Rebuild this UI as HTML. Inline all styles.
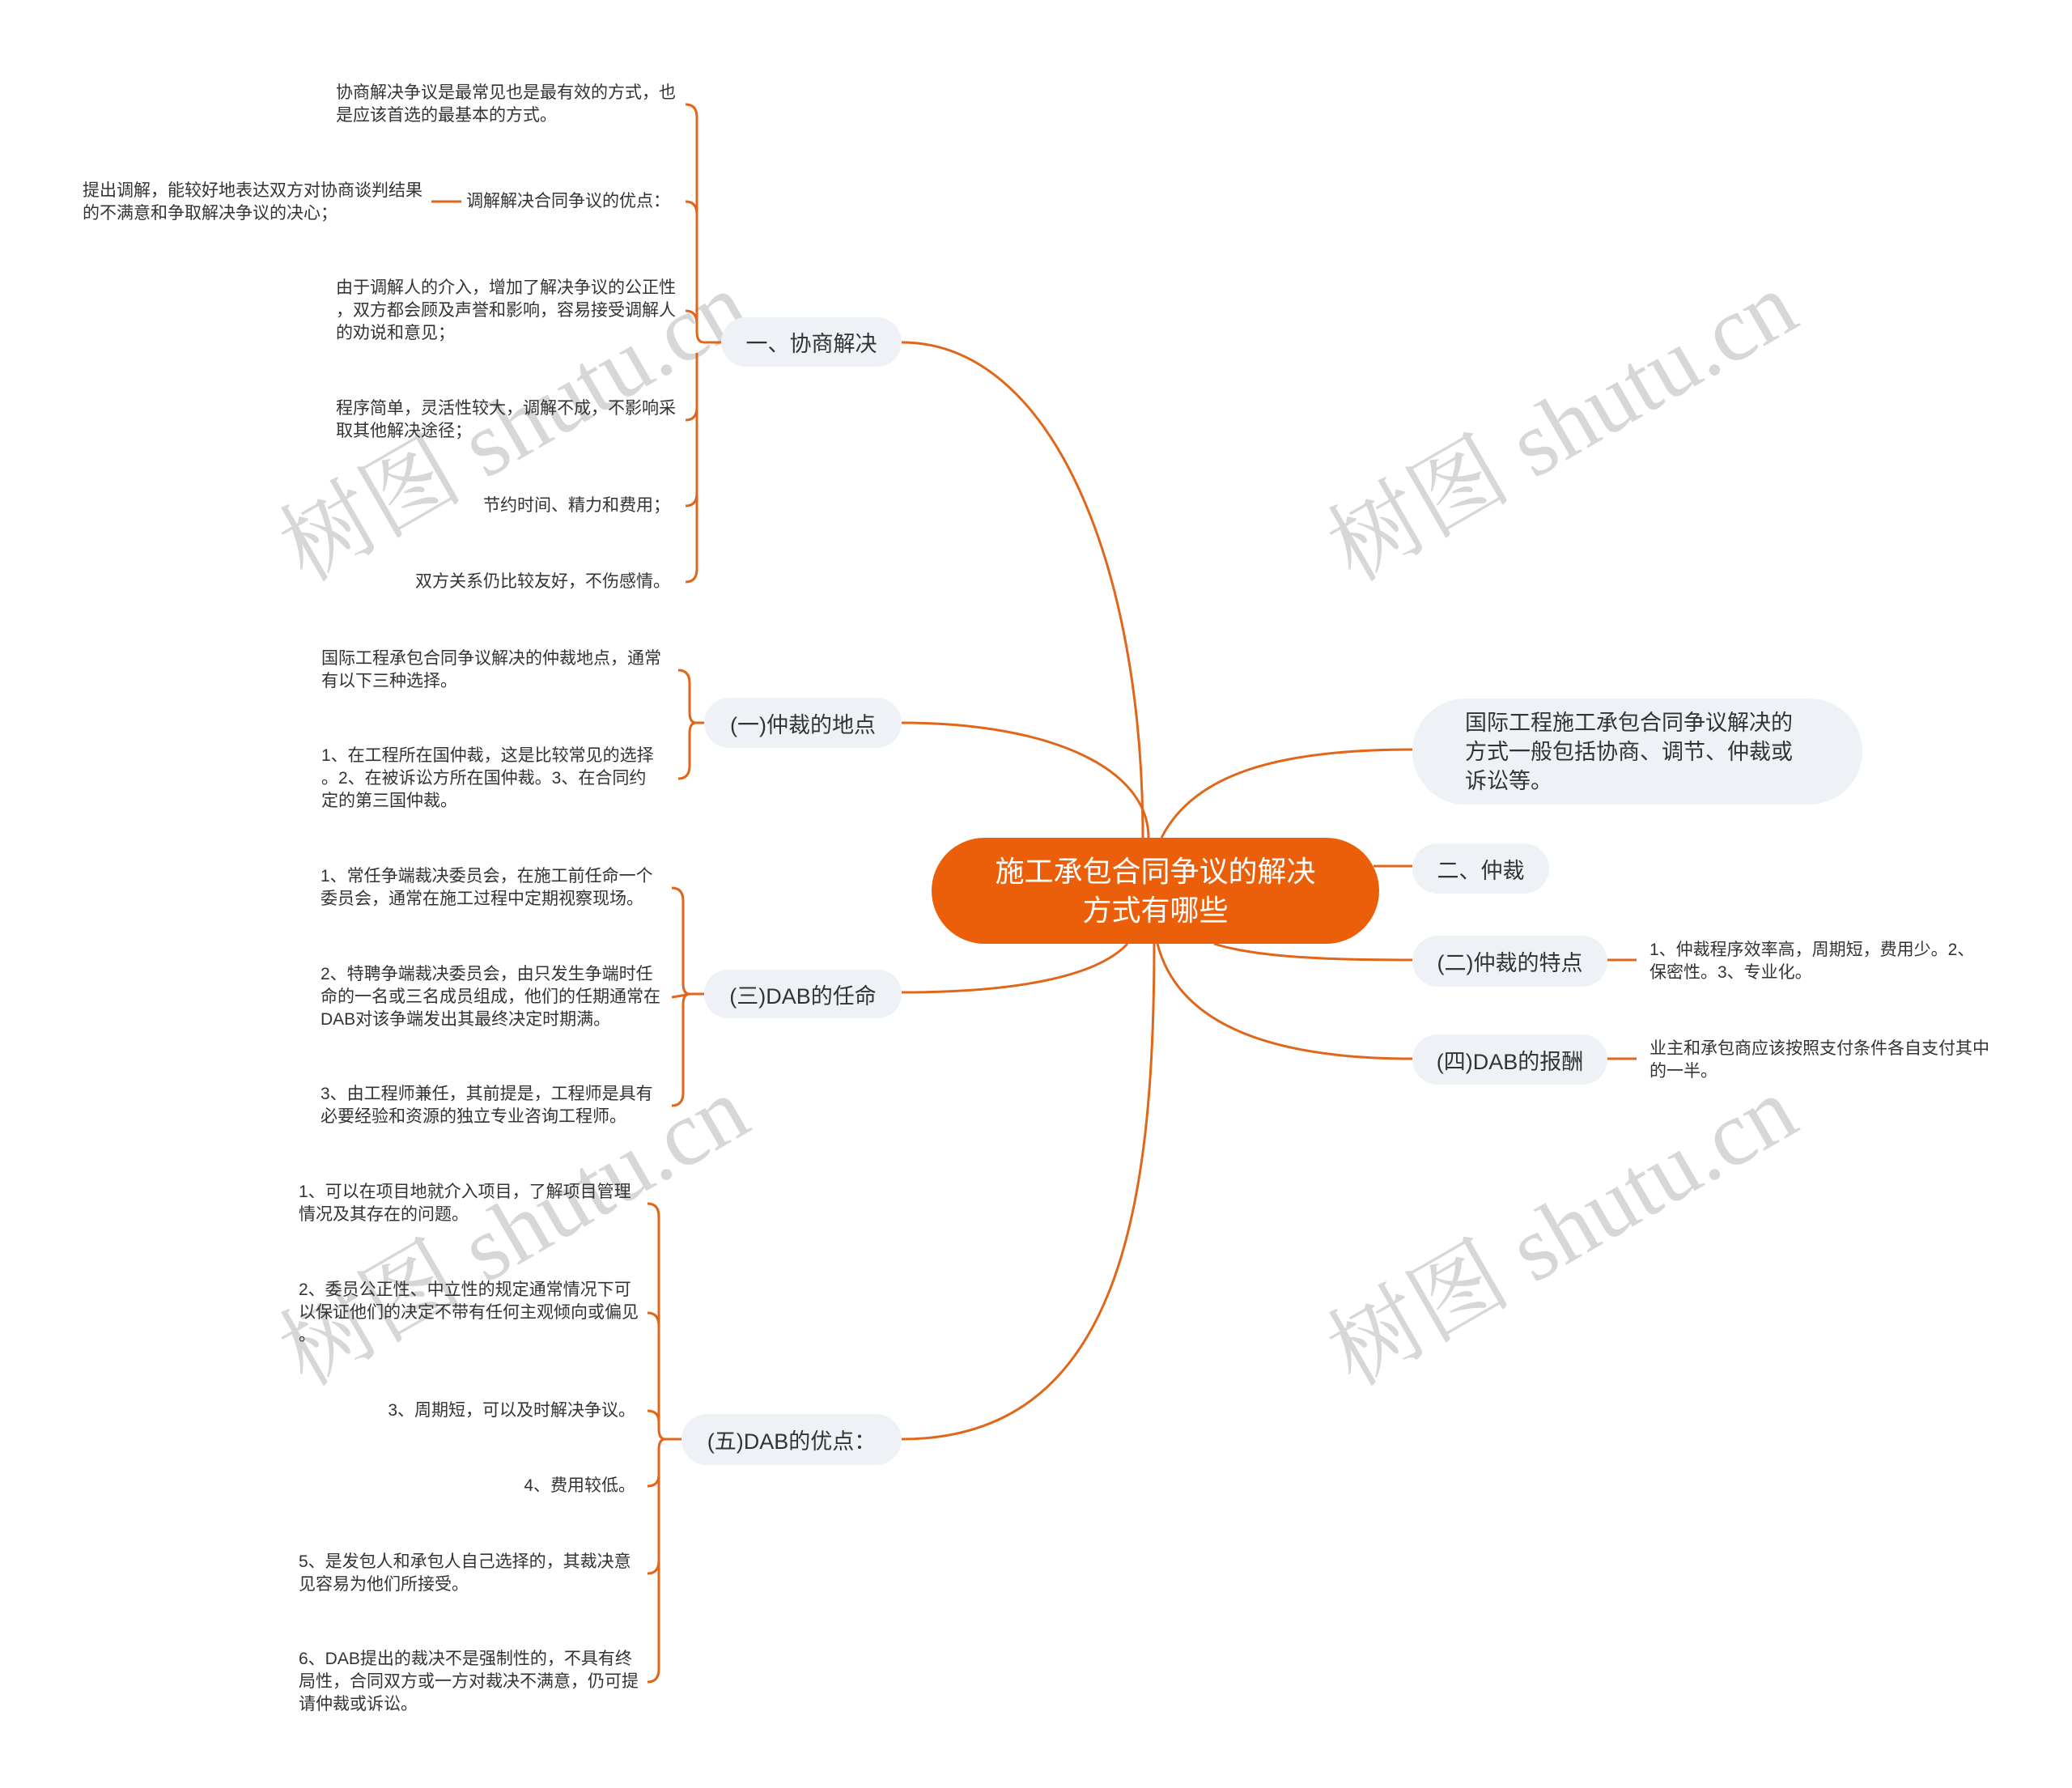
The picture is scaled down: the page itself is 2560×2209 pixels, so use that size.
<!DOCTYPE html>
<html><head><meta charset="utf-8"><style>
body{margin:0;width:2560px;height:2209px;background:#fff;position:relative;overflow:hidden;font-family:"Liberation Sans","Noto Sans CJK SC",sans-serif;}
.t{position:absolute;font-size:21px;line-height:28px;color:#333;white-space:nowrap;}
.n{position:absolute;background:#eef1f5;border-radius:32px;font-size:27px;color:#333;display:flex;align-items:center;justify-content:center;white-space:nowrap;}
.wm{position:absolute;font-family:"Liberation Serif","Noto Serif CJK SC",serif;font-size:114px;color:rgba(175,175,175,0.5);transform:translate(-50%,-50%) rotate(-30deg);white-space:nowrap;}
svg{position:absolute;left:0;top:0;}
</style></head><body>
<div class="wm" style="left:630px;top:518px">树图 shutu.cn</div>
<div class="wm" style="left:1925px;top:518px">树图 shutu.cn</div>
<div class="wm" style="left:630px;top:1512px">树图 shutu.cn</div>
<div class="wm" style="left:1925px;top:1512px">树图 shutu.cn</div>

<svg width="2560" height="2209" fill="none" stroke="#e0661a" stroke-width="3">
<path d="M1412 1035 C1412 700 1300 423 1114 423"/>
<path d="M1419 1035 C1419 950 1300 893 1114 893"/>
<path d="M1393 1166 C1354 1208 1250 1226 1114 1226"/>
<path d="M1426 1166 C1426 1500 1380 1778 1114 1778"/>
<path d="M1435 1035 C1474 958 1574 926 1745 926"/>
<path d="M1697 1070 L1745 1070"/>
<path d="M1500 1166 C1554 1183 1644 1186 1745 1186"/>
<path d="M1430 1166 C1454 1258 1554 1308 1745 1308"/>
<path d="M1986 1186 L2022 1186"/>
<path d="M1986 1308 L2022 1308"/>
<path d="M533 249 L570 249"/>
<!-- 协商 -->
<path d="M891 423 L870 423 Q861 423 861 410 L861 145 Q861 129 847 129"/>
<path d="M861 265 Q861 249 847 249"/>
<path d="M861 400 Q861 384 847 384"/>
<path d="M861 436 L861 703 Q861 719 847 719"/>
<path d="M861 503 Q861 519 847 519"/>
<path d="M861 609 Q861 625 847 625"/>
<!-- 地点 -->
<path d="M870 893 L860 893 Q852 893 852 880 L852 844 Q852 828 838 828"/>
<path d="M860 893 Q852 893 852 906 L852 946 Q852 962 838 962"/>
<!-- 任命 -->
<path d="M870 1228 L852 1228 Q844 1228 844 1215 L844 1113 Q844 1097 830 1097"/>
<path d="M852 1228 Q844 1228 844 1241 L844 1350 Q844 1366 830 1366"/>
<path d="M852 1228 Q844 1230 830 1232"/>
<!-- 优点 -->
<path d="M842 1778 L822 1778 Q814 1778 814 1765 L814 1503 Q814 1487 800 1487"/>
<path d="M822 1778 Q814 1778 814 1791 L814 2062 Q814 2078 800 2078"/>
<path d="M814 1638 Q814 1622 800 1622"/>
<path d="M814 1757 Q814 1743 800 1743"/>
<path d="M814 1822 Q814 1836 800 1836"/>
<path d="M814 1928 Q814 1944 800 1944"/>
</svg>

<div class="n" style="left:1151px;top:1035px;width:553px;height:131px;border-radius:66px;background:#eb5f0a;color:#fff;font-size:36px;line-height:48px;text-align:center;white-space:normal;">施工承包合同争议的解决<br>方式有哪些</div>

<div class="n" style="left:1745px;top:863px;width:556px;height:131px;border-radius:66px;justify-content:flex-start;padding-left:65px;box-sizing:border-box;line-height:36px;">国际工程施工承包合同争议解决的<br>方式一般包括协商、调节、仲裁或<br>诉讼等。</div>
<div class="n" style="left:1745px;top:1042px;width:169px;height:62px;">二、仲裁</div>
<div class="n" style="left:1745px;top:1156px;width:241px;height:63px;">(二)仲裁的特点</div>
<div class="n" style="left:1745px;top:1278px;width:241px;height:62px;">(四)DAB的报酬</div>

<div class="n" style="left:891px;top:392px;width:223px;height:61px;">一、协商解决</div>
<div class="n" style="left:870px;top:862px;width:244px;height:62px;">(一)仲裁的地点</div>
<div class="n" style="left:870px;top:1198px;width:244px;height:60px;">(三)DAB的任命</div>
<div class="n" style="left:842px;top:1747px;width:272px;height:63px;">(五)DAB的优点：</div>

<div class="t" style="left:2038px;top:1160px">1、仲裁程序效率高，周期短，费用少。2、<br>保密性。3、专业化。</div>
<div class="t" style="left:2038px;top:1282px">业主和承包商应该按照支付条件各自支付其中<br>的一半。</div>

<div class="t" style="left:415px;top:101px">协商解决争议是最常见也是最有效的方式，也<br>是应该首选的最基本的方式。</div>
<div class="t" style="right:1732px;top:235px">调解解决合同争议的优点：</div>
<div class="t" style="left:102px;top:222px">提出调解，能较好地表达双方对协商谈判结果<br>的不满意和争取解决争议的决心；</div>
<div class="t" style="left:415px;top:342px">由于调解人的介入，增加了解决争议的公正性<br>，双方都会顾及声誉和影响，容易接受调解人<br>的劝说和意见；</div>
<div class="t" style="left:415px;top:491px">程序简单，灵活性较大，调解不成，不影响采<br>取其他解决途径；</div>
<div class="t" style="right:1732px;top:611px">节约时间、精力和费用；</div>
<div class="t" style="right:1732px;top:705px">双方关系仍比较友好，不伤感情。</div>

<div class="t" style="left:397px;top:800px">国际工程承包合同争议解决的仲裁地点，通常<br>有以下三种选择。</div>
<div class="t" style="left:397px;top:920px">1、在工程所在国仲裁，这是比较常见的选择<br>。2、在被诉讼方所在国仲裁。3、在合同约<br>定的第三国仲裁。</div>

<div class="t" style="left:396px;top:1069px">1、常任争端裁决委员会，在施工前任命一个<br>委员会，通常在施工过程中定期视察现场。</div>
<div class="t" style="left:396px;top:1190px">2、特聘争端裁决委员会，由只发生争端时任<br>命的一名或三名成员组成，他们的任期通常在<br>DAB对该争端发出其最终决定时期满。</div>
<div class="t" style="left:396px;top:1338px">3、由工程师兼任，其前提是，工程师是具有<br>必要经验和资源的独立专业咨询工程师。</div>

<div class="t" style="left:369px;top:1459px">1、可以在项目地就介入项目，了解项目管理<br>情况及其存在的问题。</div>
<div class="t" style="left:369px;top:1580px">2、委员公正性、中立性的规定通常情况下可<br>以保证他们的决定不带有任何主观倾向或偏见<br>。</div>
<div class="t" style="right:1775px;top:1729px">3、周期短，可以及时解决争议。</div>
<div class="t" style="right:1775px;top:1822px">4、费用较低。</div>
<div class="t" style="left:369px;top:1916px">5、是发包人和承包人自己选择的，其裁决意<br>见容易为他们所接受。</div>
<div class="t" style="left:369px;top:2036px">6、DAB提出的裁决不是强制性的，不具有终<br>局性，合同双方或一方对裁决不满意，仍可提<br>请仲裁或诉讼。</div>
</body></html>
